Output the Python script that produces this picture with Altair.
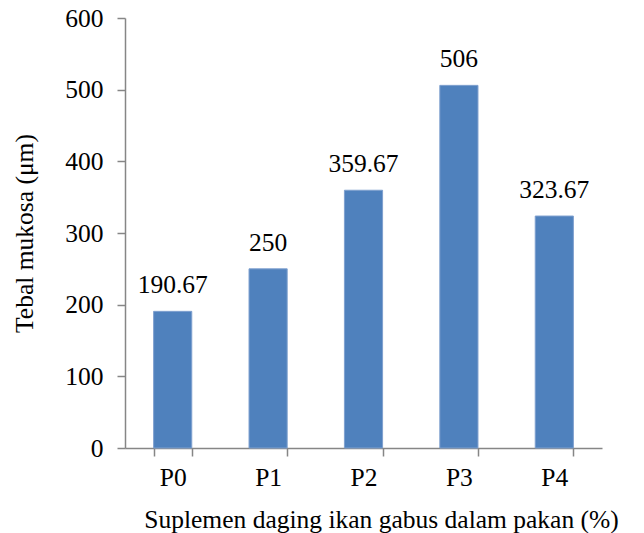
import altair as alt
import pandas as pd

# Mucosa thickness per treatment group
groups = ["P0", "P1", "P2", "P3", "P4"]
thickness = [190.67, 250, 359.67, 506, 323.67]
y_ticks = [0, 100, 200, 300, 400, 500, 600]

df = pd.DataFrame({"group": groups, "value": thickness})

FONT = "'Liberation Serif', 'Times New Roman', Times, serif"
FS = 25.5
AXIS_GRAY = "#868686"
BAR_BLUE = "#4F81BD"

x_enc = alt.X(
    "group:N",
    sort=groups,
    scale=alt.Scale(paddingInner=0.6, paddingOuter=0.3),
    axis=alt.Axis(
        title="Suplemen daging ikan gabus dalam pakan (%)",
        labelAngle=0,
        tickBand="extent",
        tickSize=8,
        labelPadding=9,
        titleX=256,
        titleY=79,
        titleAlign="center",
        titleBaseline="alphabetic",
    ),
)

y_enc = alt.Y(
    "value:Q",
    scale=alt.Scale(domain=[0, 600], nice=False),
    axis=alt.Axis(
        title="Tebal mukosa (μm)",
        values=y_ticks,
        tickSize=8,
        labelPadding=14,
        titleAngle=-90,
        titleX=-93,
        titleY=215,
        titleAlign="center",
        titleBaseline="alphabetic",
    ),
)

bars = alt.Chart(df).mark_bar(
    color=BAR_BLUE, stroke="#7FA0CF", strokeWidth=1
).encode(x=x_enc, y=y_enc)

values_text = alt.Chart(df).mark_text(
    dy=-18, baseline="alphabetic", font=FONT, fontSize=FS, color="black"
).encode(
    x=alt.X("group:N", sort=groups),
    y=alt.Y("value:Q"),
    text=alt.Text("value:Q"),
)

chart = (
    (bars + values_text)
    .properties(
        width=477,
        height=430,
        padding={"left": 125, "top": 18, "right": 42, "bottom": 85},
        autosize=alt.AutoSizeParams(type="none"),
        background="white",
    )
    .configure_view(stroke=None)
    .configure_axis(
        grid=False,
        domainColor=AXIS_GRAY,
        tickColor=AXIS_GRAY,
        domainWidth=1.5,
        tickWidth=1.5,
        labelFont=FONT,
        labelFontSize=FS,
        labelColor="black",
        titleFont=FONT,
        titleFontSize=FS,
        titleFontWeight="normal",
        titleColor="black",
    )
)

chart.save("out.html", embed_options={"renderer": "svg", "actions": False})
